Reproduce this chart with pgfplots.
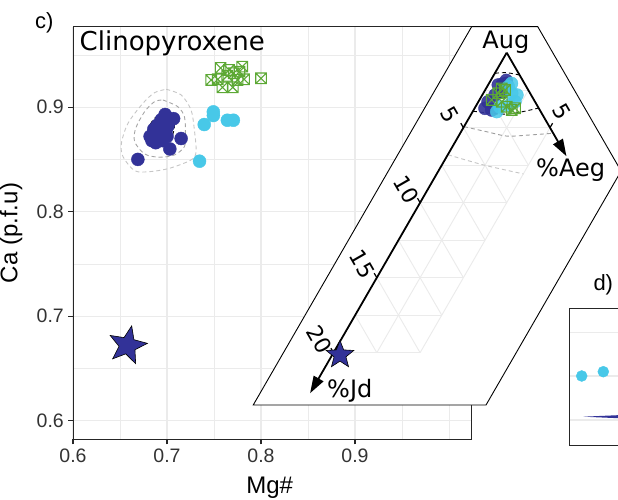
\documentclass[border=0pt]{standalone}
\usepackage{fontspec}
\setmainfont{Liberation Sans}
\newfontfamily\dejavu{DejaVu Sans}
\usepackage{pgfplots}
\pgfplotsset{compat=1.18}
\usetikzlibrary{arrows.meta}

\definecolor{navy}{RGB}{50,50,152}
\definecolor{cyanpt}{RGB}{72,200,232}
\definecolor{greenpt}{RGB}{92,168,52}
\definecolor{gridc}{RGB}{235,235,235}

\pgfdeclareplotmark{sqx}{%
  \pgfpathrectangle{\pgfpoint{-\pgfplotmarksize}{-\pgfplotmarksize}}{\pgfpoint{2\pgfplotmarksize}{2\pgfplotmarksize}}%
  \pgfpathmoveto{\pgfpoint{-\pgfplotmarksize}{-\pgfplotmarksize}}%
  \pgfpathlineto{\pgfpoint{\pgfplotmarksize}{\pgfplotmarksize}}%
  \pgfpathmoveto{\pgfpoint{-\pgfplotmarksize}{\pgfplotmarksize}}%
  \pgfpathlineto{\pgfpoint{\pgfplotmarksize}{-\pgfplotmarksize}}%
  \pgfusepathqstroke}
\pgfdeclareplotmark{fstar}{%
  \pgfpathmoveto{\pgfpointpolar{90}{\pgfplotmarksize}}%
  \pgfpathlineto{\pgfpointpolar{126}{0.43\pgfplotmarksize}}%
  \pgfpathlineto{\pgfpointpolar{162}{\pgfplotmarksize}}%
  \pgfpathlineto{\pgfpointpolar{198}{0.43\pgfplotmarksize}}%
  \pgfpathlineto{\pgfpointpolar{234}{\pgfplotmarksize}}%
  \pgfpathlineto{\pgfpointpolar{270}{0.43\pgfplotmarksize}}%
  \pgfpathlineto{\pgfpointpolar{306}{\pgfplotmarksize}}%
  \pgfpathlineto{\pgfpointpolar{342}{0.43\pgfplotmarksize}}%
  \pgfpathlineto{\pgfpointpolar{18}{\pgfplotmarksize}}%
  \pgfpathlineto{\pgfpointpolar{54}{0.43\pgfplotmarksize}}%
  \pgfpathclose
  \pgfusepathqfillstroke}

\pgfplotsset{table/tern/.style={x expr={0.5*(\thisrow{v}-\thisrow{u})}, y expr={-0.8660254*(\thisrow{u}+\thisrow{v})}}}
\newcommand{\tline}[4]{\addplot[gridc, line width=0.9pt] table[tern,row sep=\\]{u v\\ #1 #2\\ #3 #4\\};}

\begin{document}
\begin{tikzpicture}
\path[use as bounding box] (0pt,0pt) rectangle (618pt,500pt);
\clip (0pt,0pt) rectangle (618pt,500pt);

% ---------------- main panel c) ----------------
\begin{axis}[
  at={(73pt,60.7pt)}, anchor=south west, scale only axis,
  width=398.7pt, height=412.6pt,
  xmin=0.6, xmax=1.0241, ymin=0.5822, ymax=0.9770,
  xtick={0.6,0.7,0.8,0.9}, xticklabels={0.6,0.7,0.8,0.9},
  ytick={0.6,0.7,0.8,0.9}, yticklabels={0.6,0.7,0.8,0.9},
  minor xtick={0.65,0.75,0.85,0.95,1.0}, minor ytick={0.65,0.75,0.85,0.95},
  grid=both,
  major grid style={gridc, line width=1.1pt},
  minor grid style={gridc, line width=0.6pt},
  tick align=outside, major tick length=5pt, minor tick length=0pt,
  xtick pos=bottom, ytick pos=left,
  tick style={black!85, line width=1.1pt},
  axis line style={black!85, line width=0.9pt},
  tick label style={font=\fontsize{19.5}{20}\selectfont, text=black!80, inner sep=0pt},
  xticklabel style={yshift=-4pt},
  yticklabel style={xshift=-4pt},
  xlabel={Mg\#}, ylabel={Ca (p.f.u)},
  label style={font=\fontsize{24}{24}\selectfont, inner sep=0pt},
  xlabel style={at={(axis description cs:0.4934,0)}, anchor=base, yshift=-54.7pt},
  ylabel style={at={(axis description cs:-0.1392,0.5)}, anchor=base},
  clip=false,
]
% dark blue cluster
\addplot[only marks, mark=*, mark size=6.5pt, navy] coordinates {
(0.669,0.850) (0.703,0.860) (0.715,0.870) (0.707,0.889)
(0.684,0.868) (0.688,0.872) (0.690,0.876) (0.693,0.880) (0.696,0.884)
(0.699,0.887) (0.701,0.882) (0.697,0.875) (0.692,0.870) (0.686,0.874)
(0.690,0.883) (0.694,0.888) (0.699,0.878) (0.702,0.889) (0.688,0.866)
(0.695,0.868) (0.682,0.872) (0.700,0.872) (0.698,0.893) (0.686,0.879)
};
% light blue
\addplot[only marks, mark=*, mark size=6.5pt, cyanpt] coordinates {
(0.7493,0.8955) (0.7493,0.8920) (0.7396,0.8834) (0.7642,0.8875) (0.7706,0.8875) (0.7346,0.8483)
};
% green crossed squares
\addplot[only marks, mark=sqx, mark size=5.3pt, greenpt, line width=1.1pt] coordinates {
(0.757,0.9375) (0.780,0.9388) (0.747,0.926) (0.754,0.9267) (0.764,0.930)
(0.771,0.9325) (0.777,0.934) (0.782,0.9267) (0.759,0.919) (0.770,0.919)
(0.800,0.9276) (0.766,0.9356) (0.775,0.926)
};
% density contours
\addplot[gray!45, line width=0.9pt, dash pattern=on 4pt off 3pt, smooth] coordinates {
(0.6992,0.9171) (0.7150,0.9117) (0.7256,0.8973) (0.7291,0.8782) (0.7309,0.8574)
(0.7256,0.8495) (0.7026,0.8415) (0.6815,0.8383) (0.6656,0.8392) (0.6532,0.8526)
(0.6515,0.8655) (0.6585,0.8846) (0.6744,0.9037) (0.6868,0.9139) (0.6992,0.9171)
};
\addplot[gray!70, line width=0.9pt, dash pattern=on 4pt off 3pt, smooth] coordinates {
(0.6956,0.9069) (0.7114,0.9005) (0.7185,0.8909) (0.7196,0.8750) (0.7185,0.8622)
(0.7079,0.8543) (0.6921,0.8521) (0.6762,0.8552) (0.6656,0.8670) (0.6667,0.8798)
(0.6762,0.8957) (0.6868,0.9053) (0.6956,0.9069)
};
\addplot[black, line width=0.9pt, dash pattern=on 4pt off 3pt, smooth] coordinates {
(0.7008,0.8951) (0.7079,0.8846) (0.7044,0.8702) (0.6921,0.8648) (0.6807,0.8686)
(0.6797,0.8782) (0.6868,0.8894) (0.7008,0.8951)
};
% star
\addplot[only marks, mark=fstar, mark size=20pt, fill=navy, draw=black, line width=0.6pt, mark options={rotate=-12}] coordinates {(0.658,0.672)};
\end{axis}

% ---------------- ternary inset ----------------
\begin{axis}[
  at={(246.9pt,14.3pt)}, anchor=south west, scale only axis,
  width=346.4pt, height=467.64pt,
  xmin=-15, xmax=5, ymin=-25, ymax=2,
  hide axis, clip=false,
]
\addplot[fill=white, draw=black, line width=0.9pt] table[tern,row sep=\\]{u v\\
1.157 -2.89\\ -2.66 0.927\\ -2.66 10.55\\ 12.94 10.55\\ 26.38 -2.89\\ 1.157 -2.89\\};
% grid
\tline{0}{2.5}{17.5}{2.5}
\tline{0}{5}{15}{5}
\tline{2.5}{0}{2.5}{5}
\tline{5}{0}{5}{5}
\tline{7.5}{0}{7.5}{5}
\tline{10}{0}{10}{5}
\tline{12.5}{0}{12.5}{5}
\tline{15}{0}{15}{5}
\tline{17.5}{0}{17.5}{2.5}
\tline{2.5}{0}{0}{2.5}
\tline{5}{0}{0}{5}
\tline{7.5}{0}{2.5}{5}
\tline{10}{0}{5}{5}
\tline{12.5}{0}{7.5}{5}
\tline{15}{0}{10}{5}
\tline{17.5}{0}{12.5}{5}
\tline{20}{0}{15}{5}
% contours
\addplot[gray!45, line width=0.9pt, dash pattern=on 4pt off 3pt, smooth] table[tern,row sep=\\]{u v\\
6.8 0\\ 5.09 2.39\\ 3.08 5.0\\};
\addplot[gray!75, line width=0.9pt, dash pattern=on 4pt off 3pt, smooth] table[tern,row sep=\\]{u v\\
4.93 0\\ 3.79 1.48\\ 2.78 2.78\\ 1.6 3.9\\ 0 5.37\\};
\addplot[black, line width=0.9pt, dash pattern=on 4pt off 3pt, smooth] table[tern,row sep=\\]{u v\\
3.9 0\\ 2.05 2.05\\ 0 3.69\\};
\addplot[black, line width=0.9pt, dash pattern=on 4pt off 3pt, smooth] table[tern,row sep=\\]{u v\\
1.37 0\\ 0.667 0.667\\ 0 1.49\\};
% axes with arrows
\addplot[black, line width=1.8pt, -{Triangle[length=17pt,width=11pt]}] table[tern,row sep=\\]{u v\\ 0 0\\ 22.7 0\\};
\addplot[black, line width=1.8pt, -{Triangle[length=17pt,width=11pt]}] table[tern,row sep=\\]{u v\\ 0 0\\ 0 6.9\\};
% ticks
\addplot[black, line width=1.2pt] table[tern,row sep=\\]{u v\\ 5 0\\ 5 -0.3\\};
\addplot[black, line width=1.2pt] table[tern,row sep=\\]{u v\\ 10 0\\ 10 -0.3\\};
\addplot[black, line width=1.2pt] table[tern,row sep=\\]{u v\\ 15 0\\ 15 -0.3\\};
\addplot[black, line width=1.2pt] table[tern,row sep=\\]{u v\\ 20 0\\ 20 -0.3\\};
\addplot[black, line width=1.2pt] table[tern,row sep=\\]{u v\\ 0 5\\ -0.3 5\\};
% points
\addplot[only marks, mark=*, mark size=6.5pt, navy, opacity=0.9] table[tern,row sep=\\]{u v\\
3.11 0.60\\ 1.56 0.59\\ 1.02 1.02\\ 2.78 1.04\\ 2.09 0.74\\ 1.52 1.10\\ 2.72 0.56\\ 1.3 0.8\\ 0.95 0.9\\};
\addplot[only marks, mark=*, mark size=6.5pt, cyanpt, opacity=0.85] table[tern,row sep=\\]{u v\\
1.06 1.64\\ 1.15 2.11\\ 2.54 1.39\\ 1.04 1.23\\ 2.20 1.42\\ 0.82 2.00\\ 1.6 1.9\\ 0.75 1.3\\};
\addplot[only marks, mark=sqx, mark size=5.3pt, greenpt, line width=1.1pt] table[tern,row sep=\\]{u v\\
1.84 0.87\\ 1.48 0.90\\ 2.44 0.71\\ 1.80 1.80\\ 1.37 2.33\\ 1.62 2.20\\ 1.92 1.35\\ 1.34 1.15\\};
\addplot[only marks, mark=fstar, mark size=14.5pt, fill=navy, draw=black, line width=0.6pt] table[tern,row sep=\\]{u v\\ 19.7 0.45\\};
% tick labels
\node[font=\dejavu\fontsize{22}{22}\selectfont, rotate=-60] at ([shift={(-14pt,13.5pt)}]axis cs:-2.5,-4.3301) {5};
\node[font=\dejavu\fontsize{22}{22}\selectfont, rotate=-60] at ([shift={(-14pt,13.5pt)}]axis cs:-5,-8.6603) {10};
\node[font=\dejavu\fontsize{22}{22}\selectfont, rotate=-60] at ([shift={(-14pt,13.5pt)}]axis cs:-7.5,-12.9904) {15};
\node[font=\dejavu\fontsize{22}{22}\selectfont, rotate=-60] at ([shift={(-14pt,13.5pt)}]axis cs:-10,-17.3205) {20};
\node[font=\dejavu\fontsize{22}{22}\selectfont, rotate=-60] at ([shift={(11.7pt,16pt)}]axis cs:2.5,-4.3301) {5};
\end{axis}

% ---------------- panel d) (partly visible) ----------------
\begin{axis}[
  at={(569.3pt,55pt)}, anchor=south west, scale only axis,
  width=150pt, height=136.7pt,
  xmin=0, xmax=150, ymin=0, ymax=136.7,
  xtick=\empty, ytick={25,69,112.3}, yticklabels={},
  ymajorgrids, major grid style={gridc, line width=1.1pt},
  major tick length=0pt,
  axis line style={black!85, line width=0.9pt},
]
\addplot[only marks, mark=*, mark size=5.5pt, cyanpt] coordinates {(12.4,69) (34,73.3)};
\addplot[fill=navy, draw=none] coordinates {(14,28.3) (60,26.3) (60,30.3) (14,28.3)};
\end{axis}

% ---------------- texts ----------------
\node[anchor=base west, inner sep=0pt, font=\fontsize{22}{22}\selectfont] at (35pt,471pt) {c)};
\node[anchor=base west, inner sep=0pt, font=\fontsize{22}{22}\selectfont] at (593.3pt,209.5pt) {d)};
\node[anchor=base west, inner sep=0pt, font=\dejavu\fontsize{26}{26}\selectfont] at (79.5pt,449.3pt) {Clinopyroxene};
\node[anchor=base, inner sep=0pt, font=\dejavu\fontsize{24}{24}\selectfont] at (505.8pt,451.7pt) {Aug};
\node[anchor=base west, inner sep=0pt, font=\dejavu\fontsize{24}{24}\selectfont] at (536pt,323.3pt) {\%Aeg};
\node[anchor=base west, inner sep=0pt, font=\dejavu\fontsize{24}{24}\selectfont] at (327pt,102pt) {\%Jd};
\end{tikzpicture}
\end{document}
